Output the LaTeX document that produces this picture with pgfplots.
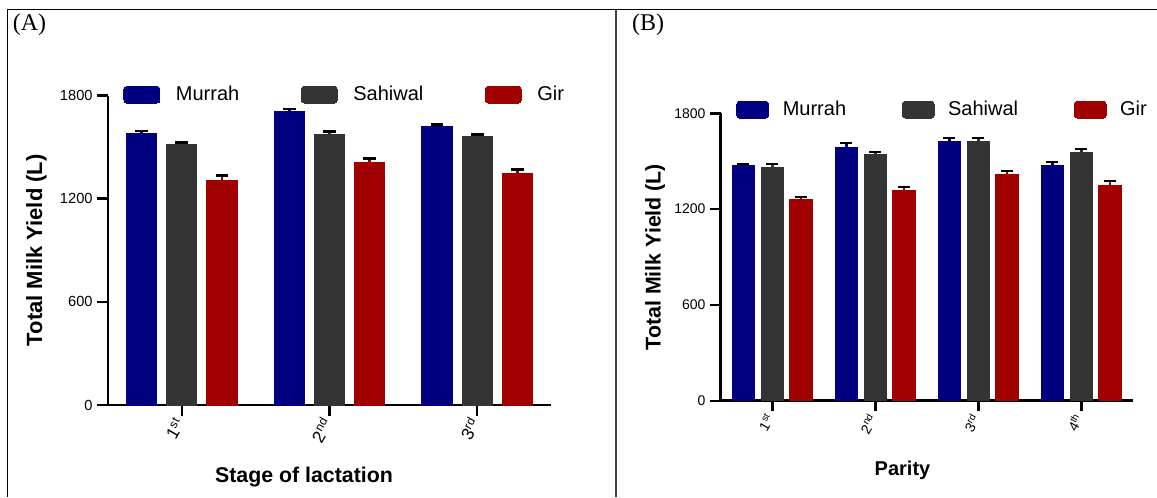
\documentclass[border=0pt]{standalone}
\usepackage{pgfplots}
\pgfplotsset{compat=1.18}
\usepackage{fontspec}
\setmainfont{Liberation Sans}
\newfontfamily\timesfont{Liberation Serif}
\definecolor{murrah}{RGB}{0,0,128}
\definecolor{sahiwal}{RGB}{52,52,52}
\definecolor{gir}{RGB}{160,0,0}

\pgfplotstableread{
x y e
1 1580 12
2 1710 12
3 1619 12
}\Amurrah
\pgfplotstableread{
x y e
1 1516 10
2 1576 14
3 1561 12
}\Asahiwal
\pgfplotstableread{
x y e
1 1308 26
2 1409 24
3 1347 22
}\Agir
\pgfplotstableread{
x y e
1 1472 11
2 1587 28
3 1622 24
4 1472 22
}\Bmurrah
\pgfplotstableread{
x y e
1 1462 22
2 1545 11
3 1622 24
4 1553 24
}\Bsahiwal
\pgfplotstableread{
x y e
1 1263 13
2 1315 22
3 1420 18
4 1347 28
}\Bgir

\pgfplotsset{
  milk/.style={
    scale only axis,
    ybar,
    axis lines=left,
    axis line style={-, line width=2pt, black},
    ymin=0, ymax=1800,
    ytick={0,600,1200,1800},
    tick align=outside,
    major tick length=8pt,
    tick style={line width=1.8pt, black},
    /pgf/number format/assume math mode=true,
    /pgf/number format/1000 sep={},
    every axis plot/.append style={line width=0pt},
    error bars/y dir=plus,
    error bars/y explicit,
    error bars/error bar style={line width=1.8pt},
    clip=false,
    legend columns=3,
    legend cell align=left,
    ylabel={Total Milk Yield (L)},
  }
}

\begin{document}
\begin{tikzpicture}
\useasboundingbox (0,0) rectangle (867.75pt,372.75pt);
% frame
\draw[line width=1.1pt, black] (5.6pt,0) -- (5.6pt,365.6pt) -- (867.75pt,365.6pt);
\draw[line width=1.1pt, black!75] (462pt,0) -- (462pt,365.6pt);
\node[font=\timesfont\fontsize{18}{20}\selectfont] at (22.1pt,354pt) {(A)};
\node[font=\timesfont\fontsize{18}{20}\selectfont] at (486pt,354pt) {(B)};

% Panel A
\begin{axis}[milk,
  at={(81pt,69pt)}, anchor=south west,
  width=332.25pt, height=232.1pt,
  xmin=0.5, xmax=3.5,
  bar width=0.204,
  xtick={1,2,3},
  xticklabels={1\textsuperscript{st},2\textsuperscript{nd},3\textsuperscript{rd}},
  xticklabel style={rotate=60, anchor=east, font=\fontsize{13}{14}\selectfont},
  yticklabel style={font=\fontsize{11}{12}\selectfont},
  error bars/error mark options={rotate=90, mark size=4.8pt, line width=1.8pt},
  xlabel={Stage of lactation},
  xlabel style={at={(axis description cs:0.4424,-0.234)}, anchor=center, font=\bfseries\fontsize{16}{18}\selectfont},
  ylabel style={at={(axis description cs:-0.1614,0.5)}, anchor=center, font=\bfseries\fontsize{16.5}{18}\selectfont},
  legend style={draw=none, fill=none, at={(rel axis cs:0.036,1.003)}, anchor=west,
    font=\fontsize{15}{17}\selectfont, inner sep=0pt, outer sep=0pt,
    nodes={inner sep=0pt},
    /tikz/every odd column/.style={column sep=12pt},
    /tikz/every even column/.style={column sep=46.5pt}},
  legend image code/.code={\fill[#1, rounded corners=2.5pt] (0pt,-6.4pt) rectangle (27pt,6.4pt);},
]
\addplot[fill=murrah, draw=murrah, bar shift=-0.272] table[x=x, y=y, y error=e] {\Amurrah};
\addplot[fill=sahiwal, draw=sahiwal, bar shift=0] table[x=x, y=y, y error=e] {\Asahiwal};
\addplot[fill=gir, draw=gir, bar shift=0.272] table[x=x, y=y, y error=e] {\Agir};
\legend{Murrah, Sahiwal, Gir}
\end{axis}

% Panel B
\begin{axis}[milk,
  at={(540.6pt,72.2pt)}, anchor=south west,
  width=309pt, height=215.55pt,
  xmin=0.5, xmax=4.5,
  bar width=0.218,
  xtick={1,2,3,4},
  xticklabels={1\textsuperscript{st},2\textsuperscript{nd},3\textsuperscript{rd},4\textsuperscript{th}},
  xticklabel style={rotate=60, anchor=east, font=\fontsize{10.5}{11}\selectfont},
  yticklabel style={font=\fontsize{10.5}{11}\selectfont},
  error bars/error mark options={rotate=90, mark size=4.5pt, line width=1.8pt},
  xlabel={Parity},
  xlabel style={at={(axis description cs:0.441,-0.241)}, anchor=center, font=\bfseries\fontsize{15}{17}\selectfont},
  ylabel style={at={(axis description cs:-0.1597,0.5)}, anchor=center, font=\bfseries\fontsize{16}{18}\selectfont},
  legend style={draw=none, fill=none, at={(rel axis cs:0.0388,1.013)}, anchor=west,
    font=\fontsize{15}{17}\selectfont, inner sep=0pt, outer sep=0pt,
    nodes={inner sep=0pt},
    /tikz/every odd column/.style={column sep=10.5pt},
    /tikz/every even column/.style={column sep=42pt}},
  legend image code/.code={\fill[#1, rounded corners=2.5pt] (0pt,-6.4pt) rectangle (24pt,6.4pt);},
]
\addplot[fill=murrah, draw=murrah, bar shift=-0.28] table[x=x, y=y, y error=e] {\Bmurrah};
\addplot[fill=sahiwal, draw=sahiwal, bar shift=0] table[x=x, y=y, y error=e] {\Bsahiwal};
\addplot[fill=gir, draw=gir, bar shift=0.28] table[x=x, y=y, y error=e] {\Bgir};
\legend{Murrah, Sahiwal, Gir}
\end{axis}
\end{tikzpicture}
\end{document}
